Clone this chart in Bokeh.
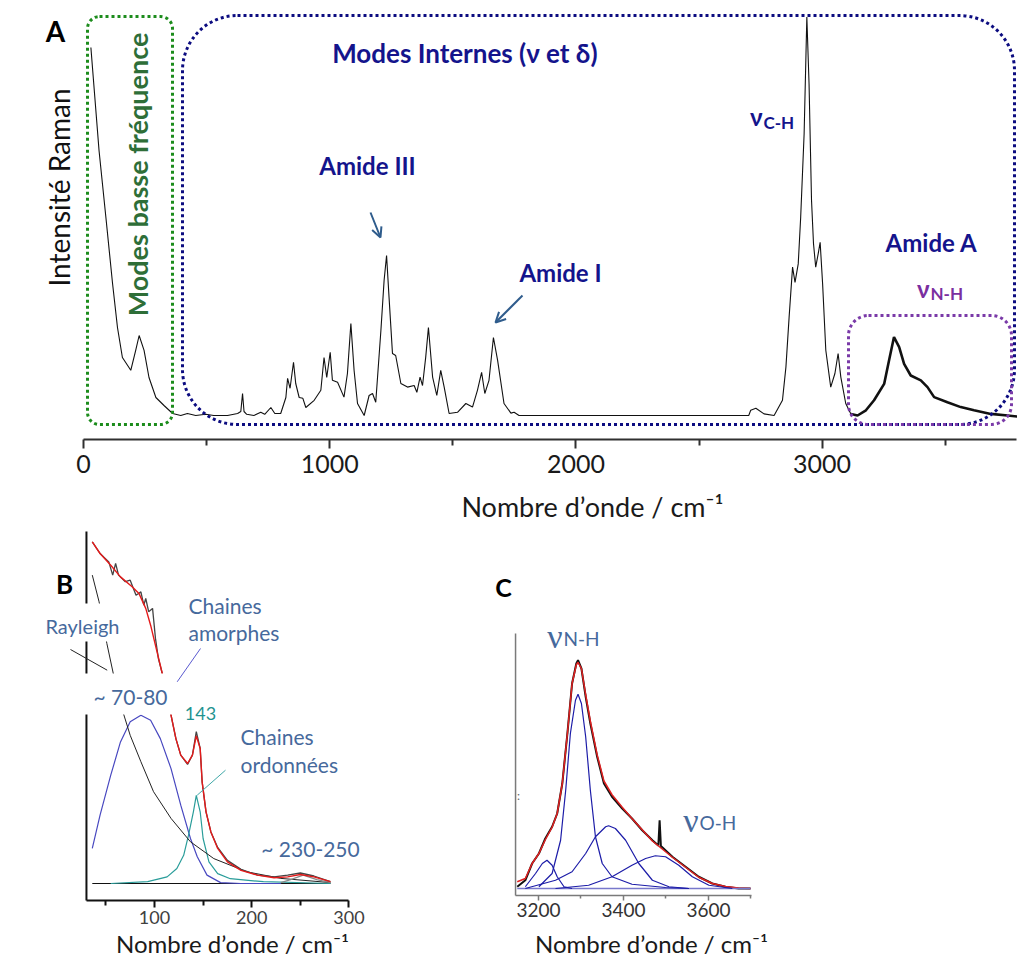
import math
from bokeh.plotting import figure
from bokeh.models import Range1d, FixedTicker, Label, BoxAnnotation, Arrow, OpenHead
from bokeh.layouts import column, row
from bokeh.embed import file_html
from bokeh.resources import INLINE

# ---------------- data: panel A (full Raman spectrum) ----------------
a_wn = [30, 63, 91, 118, 138, 158, 192, 212, 226, 246, 266, 294, 327, 362, 395, 422, 456, 497, 529, 585,
        626, 639, 646, 652, 663, 692, 720, 736, 761, 777, 801, 822, 829, 839, 853, 862, 876, 891, 903, 937,
        964, 977, 988, 1002, 1011, 1032, 1058, 1072, 1086, 1099, 1113, 1140, 1160, 1174, 1187, 1208, 1221,
        1231, 1241, 1255, 1268, 1289, 1316, 1343, 1354, 1367, 1377, 1390, 1401, 1418, 1435, 1451, 1465,
        1485, 1519, 1553, 1580, 1600, 1617, 1630, 1647, 1665, 1682, 1708, 1736, 1749, 1769, 2702, 2710,
        2731, 2764, 2805, 2839, 2853, 2866, 2880, 2890, 2903, 2913, 2927, 2938, 2947, 2957, 2965, 2974,
        2984, 2992, 3002, 3015, 3035, 3052, 3065, 3076, 3096, 3117]
a_int = [92.0, 66.3, 49.5, 33.0, 22.0, 14.5, 11.3, 16.3, 20.0, 16.3, 9.5, 4.5, 2.5, 0.5, 0.0, 0.5, 0.0, 0.3,
         0.0, 0.0, 0.5, 1.0, 5.5, 1.0, 0.3, 0.0, 0.8, 0.3, 2.0, 0.5, 0.5, 4.5, 9.3, 6.8, 13.3, 8.0, 4.5, 4.3,
         2.0, 3.8, 6.3, 14.5, 9.5, 15.8, 8.8, 8.3, 4.6, 10.5, 23.0, 11.3, 3.0, 0.0, 5.0, 5.5, 3.3, 21.3, 33.8,
         40.0, 29.6, 15.5, 15.0, 8.0, 7.1, 7.5, 5.8, 9.6, 7.5, 14.6, 22.0, 9.6, 5.0, 11.3, 7.1, 0.5, 0.8, 3.0,
         2.1, 6.3, 10.8, 5.5, 8.8, 19.5, 13.8, 3.0, 0.6, 0.8, 0.0, 0.0, 1.3, 1.8, 0.4, 0.0, 3.8, 12.1, 24.6,
         37.1, 33.3, 37.9, 49.6, 70.5, 99.6, 82.9, 53.8, 43.0, 37.1, 40.4, 43.3, 33.0, 16.3, 7.1, 10.5, 15.5,
         9.6, 3.0, 0.4]
a_nh_wn = [3117, 3144, 3178, 3211, 3252, 3272, 3292, 3313, 3333, 3360, 3401, 3428, 3455, 3509, 3563, 3617,
           3685, 3753, 3802]
a_nh_int = [0.4, 0.0, 1.3, 3.8, 7.9, 13.8, 19.6, 17.1, 12.9, 10.0, 8.8, 7.1, 4.6, 3.3, 2.1, 1.3, 0.4, 0.0, -0.3]
a_ticks = [0, 1000, 2000, 3000]
a_minor = [500, 1500, 2500, 3500]

# ---------------- data: panel B (low-frequency fit) ----------------
b_wn_exp = [36, 44, 53, 57, 60, 63, 70, 75, 81, 86, 89, 91, 94, 98, 101, 104, 108, 117, 122, 127, 134, 139,
            143, 147, 149, 153, 158, 165, 175, 189, 206, 223, 237, 250, 264, 281]
b_exp = [113.9, 110.0, 107.2, 102.8, 106.7, 102.8, 100.6, 101.1, 96.1, 97.2, 92.8, 95.0, 90.6, 91.7, 81.7,
         75.0, 70.0, 56.1, 48.3, 42.8, 39.7, 42.8, 50.6, 45.0, 33.9, 23.9, 17.2, 12.0, 7.7, 4.7, 2.8, 2.2,
         2.8, 3.5, 2.5, 0.6]
b_wn_fit = [36, 44, 55, 65, 77, 84, 91, 96, 101, 108, 117, 122, 127, 134, 139, 143, 147, 149, 153, 158, 165,
            175, 189, 206, 223, 237, 250, 264, 281]
b_fit = [113.9, 110.0, 106.1, 102.2, 98.9, 96.7, 91.7, 86.1, 79.4, 70.0, 56.1, 48.3, 42.8, 40.0, 42.8, 49.2,
         45.0, 33.9, 23.9, 17.2, 11.7, 7.2, 4.4, 2.8, 1.9, 2.2, 3.0, 2.2, 0.6]
b_wn_am = [36, 44, 55, 65, 75, 86, 96, 106, 117, 127, 137, 144, 154, 168, 189, 230]
b_am = [11.7, 22.8, 36.1, 47.2, 53.9, 56.1, 54.4, 48.3, 38.3, 26.1, 15.0, 8.9, 2.8, 0.3, 0.0, 0.0]
b_wn_ord = [55, 93, 113, 123, 130, 135, 140, 143, 147, 150, 156, 165, 178, 212, 281]
b_ord = [0.0, 0.6, 2.2, 5.0, 9.4, 16.1, 23.9, 29.4, 23.9, 15.0, 7.2, 3.3, 1.6, 0.6, 0.0]
b_wn_ray = [36, 43, 51, 58, 68, 75, 86, 99, 117, 137, 161, 195, 230, 281]
b_ray = [102.8, 93.9, 80.0, 69.4, 56.7, 49.4, 40.6, 30.6, 21.7, 13.9, 8.3, 3.9, 1.7, 0.3]
b_wn_bump = [230, 240, 253, 267, 281]
b_bump = [0.3, 1.3, 2.8, 1.3, 0.3]
b_wn_base = [36, 281]
b_base = [0.0, 0.0]
b_ticks = [100, 200, 300]
b_minor = [50, 150, 250]

# ---------------- data: panel C (N-H / O-H stretching fit) ----------------
c_wn_exp = [3150, 3169, 3185, 3201, 3216, 3232, 3244, 3256, 3268, 3279, 3289, 3293, 3301, 3311, 3322, 3338,
            3354, 3373, 3397, 3420, 3444, 3468, 3482, 3485, 3488, 3515, 3546, 3577, 3609, 3640, 3671, 3699]
c_exp = [0.7, 3.3, 10.0, 14.0, 20.0, 24.7, 30.0, 42.0, 62.0, 82.0, 90.0, 91.3, 88.0, 76.7, 66.0, 52.7, 42.0,
         36.7, 32.0, 28.0, 23.3, 19.3, 17.2, 27.3, 17.0, 12.7, 8.7, 4.7, 2.0, 0.7, 0.0, 0.0]
c_wn_fit = [3150, 3169, 3185, 3201, 3216, 3232, 3244, 3256, 3268, 3279, 3289, 3293, 3301, 3311, 3322, 3338,
            3354, 3373, 3397, 3420, 3444, 3468, 3515, 3546, 3577, 3609, 3640, 3671, 3699]
c_fit = [2.7, 4.0, 10.0, 14.0, 19.5, 24.5, 30.0, 42.0, 62.0, 82.0, 89.5, 90.5, 88.0, 77.5, 67.0, 53.5, 43.0,
         37.5, 32.5, 28.0, 23.5, 19.0, 12.5, 8.5, 4.5, 2.0, 0.8, 0.2, 0.0]
c_wn_p1 = [3169, 3193, 3209, 3220, 3232, 3244, 3260, 3279]
c_p1 = [0.7, 6.0, 10.0, 11.3, 9.3, 4.7, 0.7, 0.0]
c_wn_p2 = [3201, 3232, 3252, 3264, 3275, 3287, 3293, 3301, 3311, 3322, 3334, 3350, 3373, 3420, 3499, 3554]
c_p2 = [0.7, 6.0, 19.3, 39.3, 62.0, 75.3, 77.7, 74.0, 60.7, 39.3, 20.7, 10.0, 4.7, 1.7, 0.4, 0.0]
c_wn_p3 = [3169, 3240, 3279, 3311, 3334, 3358, 3365, 3381, 3405, 3436, 3468, 3507, 3554]
c_p3 = [0.0, 3.3, 6.7, 14.0, 20.7, 24.7, 25.1, 24.0, 19.3, 10.0, 3.3, 0.7, 0.0]
c_wn_p4 = [3240, 3318, 3373, 3420, 3452, 3475, 3499, 3530, 3562, 3601, 3656]
c_p4 = [0.0, 1.3, 4.7, 9.3, 12.0, 13.1, 12.7, 9.3, 4.7, 1.3, 0.0]
c_wn_base = [3150, 3699]
c_base = [0.0, 0.0]
c_ticks = [3200, 3400, 3600]
c_minor = [3300, 3500, 3700]

# ---------------- styling ----------------
FONT = "Lato"
NAVY = "#14148c"
STEEL = "#46699c"
AX_TITLE = "Nombre d\u2019onde / cm\u207b\u00b9"


def lab(p, x, y, text, size, color, bold=False, angle=0.0, font=FONT, align="center"):
    p.add_layout(Label(x=x, y=y, text=text, text_font=font, text_font_size=f"{size}px",
                       text_color=color, text_font_style="bold" if bold else "normal",
                       angle=angle, text_align=align, text_baseline="middle"))


def base_fig(w, h, xr, yr):
    p = figure(width=w, height=h, x_range=xr, y_range=yr, output_backend="svg",
               toolbar_location=None, y_axis_location=None,
               min_border_left=0, min_border_right=0, min_border_top=0, min_border_bottom=0)
    p.outline_line_color = None
    p.grid.visible = False
    p.background_fill_color = "white"
    p.border_fill_color = "white"
    return p


def style_axis(ax, at, bounds, ticks, minor, color, lw, tout, mout, fsize, lcolor, standoff):
    ax.fixed_location = at
    ax.bounds = bounds
    ax.ticker = FixedTicker(ticks=ticks, minor_ticks=minor)
    ax.axis_line_color = color
    ax.axis_line_width = lw
    ax.major_tick_line_color = color
    ax.major_tick_line_width = lw
    ax.minor_tick_line_color = color
    ax.minor_tick_line_width = lw
    ax.major_tick_in = 0
    ax.minor_tick_in = 0
    ax.major_tick_out = tout
    ax.minor_tick_out = mout
    ax.major_label_text_font = FONT
    ax.major_label_text_font_size = f"{fsize}px"
    ax.major_label_text_color = lcolor
    ax.major_label_standoff = standoff


def dotted_box(p, l, r, t, b, color, radius):
    p.add_layout(BoxAnnotation(left=l, right=r, top=t, bottom=b, fill_color=None, fill_alpha=0,
                               line_color=color, line_alpha=1.0, line_width=3, line_dash="3 3",
                               border_radius=radius))


def cover(p, l, r, t, b):
    p.add_layout(BoxAnnotation(left=l, right=r, top=t, bottom=b, fill_color="white", fill_alpha=1.0,
                               line_color=None, line_alpha=0))


# ================= Panel A =================
def ax_(px):  # reference-pixel -> panel A data (annotation placement only)
    return (px - 83) * 4.0617


def ay_(py):
    return (415 - py) / 4.0


pA = base_fig(1017, 530, Range1d(ax_(0), ax_(1017)), Range1d(ay_(530), ay_(0)))
style_axis(pA.xaxis[0], ay_(439), (0, 3790), a_ticks, a_minor, "#303030", 2, 9, 6, 25, "#1a1a1a", 6)

pA.line(a_wn, a_int, line_color="#111111", line_width=1.1)
pA.line(a_nh_wn, a_nh_int, line_color="#111111", line_width=2.6)

dotted_box(pA, ax_(87), ax_(172), ay_(16), ay_(424), "#1c8c1c", 12)
dotted_box(pA, ax_(182), ax_(1014), ay_(15), ay_(424), "#0c0c80", 55)
dotted_box(pA, ax_(848), ax_(1011), ay_(315), ay_(424), "#7a3aa8", 20)

ARROW_C = "#2f5c8c"
pA.add_layout(Arrow(x_start=ax_(370), y_start=ay_(212), x_end=ax_(380), y_end=ay_(237),
                    line_color=ARROW_C, line_width=2,
                    end=OpenHead(size=10, line_color=ARROW_C, line_width=2)))
pA.add_layout(Arrow(x_start=ax_(522), y_start=ay_(295), x_end=ax_(495), y_end=ay_(322),
                    line_color=ARROW_C, line_width=2,
                    end=OpenHead(size=10, line_color=ARROW_C, line_width=2)))

lab(pA, ax_(55), ay_(30), "A", 28, "#000000", bold=True)
lab(pA, ax_(58), ay_(187), "Intensité Raman", 28, "#111111", angle=math.pi / 2)
lab(pA, ax_(137), ay_(174), "Modes basse fréquence", 27, "#2e6e38", bold=True, angle=math.pi / 2)
lab(pA, ax_(464), ay_(52), "Modes Internes (\u03bd et \u03b4)", 26, NAVY, bold=True)
lab(pA, ax_(367), ay_(165), "Amide III", 24, NAVY, bold=True)
lab(pA, ax_(560), ay_(272), "Amide I", 24, NAVY, bold=True)
lab(pA, ax_(931), ay_(242), "Amide A", 24, NAVY, bold=True)
lab(pA, ax_(762), ay_(116), "\u03bd", 24, NAVY, bold=True, align="right")
lab(pA, ax_(763), ay_(122), "C-H", 17, NAVY, bold=True, align="left")
lab(pA, ax_(929), ay_(288), "\u03bd", 24, "#7a2fa0", bold=True, align="right")
lab(pA, ax_(930), ay_(293), "N-H", 17, "#7a2fa0", bold=True, align="left")
lab(pA, ax_(592), ay_(506), AX_TITLE, 27, "#1a1a1a")

# ================= Panel B =================
SHIFT = 17  # lower row raised a little so that it fits the window


def bx_(px):
    return 100 + (px - 154) * 1.0287


def by_(py):
    return (900 - py) / 3.0


pB = base_fig(432, 428, Range1d(bx_(0), bx_(432)), Range1d(by_(530 + SHIFT + 428), by_(530 + SHIFT)))
style_axis(pB.xaxis[0], by_(917), (30, 300), b_ticks, b_minor, "#111111", 2, 7, 5, 18, "#404040", 3)

pB.segment(x0=[30], y0=[by_(917)], x1=[30], y1=[by_(548)], line_color="#111111", line_width=2)
pB.line(b_wn_base, b_base, line_color="#111111", line_width=1)
pB.line(b_wn_am, b_am, line_color="#4848c0", line_width=1.2)
pB.line(b_wn_ord, b_ord, line_color="#2a9d9a", line_width=1.2)
pB.line(b_wn_ray, b_ray, line_color="#222222", line_width=1)
pB.line(b_wn_bump, b_bump, line_color="#888888", line_width=1.2)
pB.line(b_wn_exp, b_exp, line_color="#444444", line_width=1.3)
pB.line(b_wn_fit, b_fit, line_color="#e41a1a", line_width=1.4)

pB.add_layout(Arrow(x_start=bx_(70), y_start=by_(666), x_end=bx_(106.7), y_end=by_(686.7),
                    line_color="#222222", line_width=1, end=None))
pB.add_layout(Arrow(x_start=bx_(176.7), y_start=by_(698.3), x_end=bx_(200), y_end=by_(665),
                    line_color="#5a5ad0", line_width=1, end=None))
pB.add_layout(Arrow(x_start=bx_(196.7), y_start=by_(811.7), x_end=bx_(225), y_end=by_(786.7),
                    line_color="#40a8a8", line_width=1, end=None))

cover(pB, bx_(40), bx_(124), by_(620), by_(658))
cover(pB, bx_(78), bx_(174), by_(690), by_(731))

lab(pB, bx_(64), by_(600), "B", 26, "#000000", bold=True)
lab(pB, bx_(82), by_(642), "Rayleigh", 20, STEEL)
lab(pB, bx_(188), by_(622), "Chaines", 21, STEEL, align="left")
lab(pB, bx_(188), by_(649), "amorphes", 21, STEEL, align="left")
lab(pB, bx_(130), by_(713), "~ 70-80", 21, STEEL)
lab(pB, bx_(200), by_(730), "143", 18, "#1f9390")
lab(pB, bx_(240), by_(753), "Chaines", 21, STEEL, align="left")
lab(pB, bx_(240), by_(781), "ordonnées", 21, STEEL, align="left")
lab(pB, bx_(310), by_(865), "~ 230-250", 21, STEEL)
lab(pB, bx_(232), by_(960), AX_TITLE, 24, "#1a1a1a")

# ================= Panel C =================
def cx_(px):
    return 3200 + (px - 538) * 2.353


def cy_(py):
    return (905 - py) / 2.5


pC = base_fig(585, 428, Range1d(cx_(432), cx_(1017)), Range1d(cy_(530 + SHIFT + 428), cy_(530 + SHIFT)))
style_axis(pC.xaxis[0], cy_(912), (3146, 3701), c_ticks, c_minor, "#7a7a7a", 1.5, 5, 3, 19, "#333333", 2)

pC.segment(x0=[3146], y0=[cy_(912)], x1=[3146], y1=[cy_(650)], line_color="#7a7a7a", line_width=1.5)
pC.line(c_wn_exp, c_exp, line_color="#111111", line_width=2.0)
pC.line(c_wn_fit, c_fit, line_color="#e02020", line_width=1.5)
pC.line(c_wn_base, c_base, line_color="#7878cc", line_width=1.5)
for wn, val in ((c_wn_p1, c_p1), (c_wn_p2, c_p2), (c_wn_p3, c_p3), (c_wn_p4, c_p4)):
    pC.line(wn, val, line_color="#1c1ca8", line_width=1.2)

lab(pC, cx_(503), cy_(603), "C", 25, "#000000", bold=True)
lab(pC, cx_(562), cy_(653), "\u03bd", 34, STEEL, font="Liberation Serif", align="right")
lab(pC, cx_(563), cy_(655), "N-H", 19, STEEL, align="left")
lab(pC, cx_(698), cy_(837), "\u03bd", 34, STEEL, font="Liberation Serif", align="right")
lab(pC, cx_(699), cy_(839), "O-H", 19, STEEL, align="left")
lab(pC, cx_(518), cy_(812), ":", 12, "#666666")
lab(pC, cx_(651), cy_(960), AX_TITLE, 24, "#1a1a1a")

layout = column(pA, row(pB, pC))
open("out.html", "w").write(file_html(layout, INLINE))
